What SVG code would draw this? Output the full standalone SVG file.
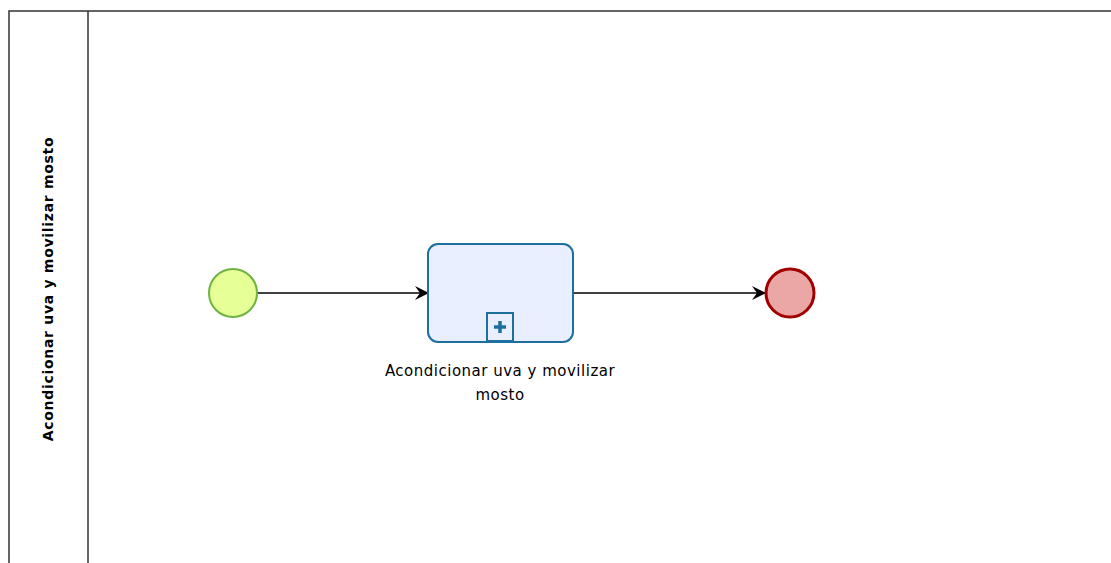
<svg xmlns="http://www.w3.org/2000/svg" width="1111" height="563" viewBox="0 0 1111 563">
<defs>
<style>
.pool{fill:#ffffff;stroke:#333333;stroke-width:1.5}
.lbl{font-family:"DejaVu Sans",sans-serif;fill:#000}
.flow{stroke:#000;stroke-width:1.3;fill:none}
</style>
<marker id="arr" markerWidth="14" markerHeight="14" refX="13" refY="7" orient="auto" markerUnits="userSpaceOnUse">
<path d="M0,0 L14,7 L0,14 L5,7 Z" fill="#000"/>
</marker>
</defs>
<rect width="1111" height="563" fill="#fff"/>
<g id="pool">
<rect class="pool" x="9" y="11" width="1110" height="570"/>
<line x1="88" y1="11" x2="88" y2="563" stroke="#333" stroke-width="1.5"/>
<text class="lbl" font-weight="bold" font-size="14" letter-spacing="0.7" text-anchor="middle" transform="translate(53,289) rotate(-90)">Acondicionar uva y movilizar mosto</text>
</g>
<g id="connectors">
<line class="flow" x1="257" y1="293" x2="428" y2="293" marker-end="url(#arr)"/>
<line class="flow" x1="573" y1="293" x2="765" y2="293" marker-end="url(#arr)"/>
</g>
<g id="start">
<circle cx="233" cy="293" r="24" fill="#e6ff97" stroke="#6db33f" stroke-width="2"/>
</g>
<g id="task">
<rect x="428" y="244" width="145" height="98" rx="10" fill="#eaefff" stroke="#1d6f9f" stroke-width="2"/>
<rect x="487" y="313" width="26" height="28" fill="#eaefff" stroke="#1d6f9f" stroke-width="2"/>
<path d="M500,321 V333 M494,327 H506" stroke="#1d6f9f" stroke-width="3.5"/>
<text class="lbl" font-size="15" letter-spacing="0.5" text-anchor="middle" x="500" y="376">Acondicionar uva y movilizar</text>
<text class="lbl" font-size="15" letter-spacing="0.5" text-anchor="middle" x="500" y="400">mosto</text>
</g>
<g id="end">
<circle cx="790" cy="293" r="24" fill="#eba6a6" stroke="#a10000" stroke-width="3"/>
</g>
</svg>
